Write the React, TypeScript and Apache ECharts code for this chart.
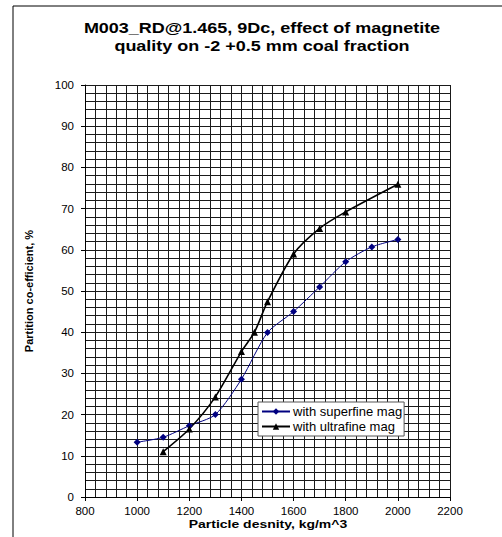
import React, { useEffect, useRef } from "react";
import * as echarts from "echarts";

const titleLines = ["M003_RD@1.465, 9Dc, effect of magnetite", "quality on -2 +0.5 mm coal fraction"];
const xName = "Particle desnity, kg/m^3";
const yName = "Partition co-efficient, %";

const superfineX = [1000, 1100, 1200, 1300, 1400, 1500, 1600, 1700, 1800, 1900, 2000];
const superfineY = [13.3, 14.5, 17.3, 20.0, 28.6, 39.9, 45.0, 51.0, 57.1, 60.7, 62.5];
const ultrafineX = [1100, 1200, 1300, 1400, 1450, 1500, 1600, 1700, 1800, 2000];
const ultrafineY = [11.0, 16.5, 24.3, 35.3, 40.0, 47.4, 59.0, 65.2, 69.2, 75.9];

const seriesNames = ["with superfine mag", "with ultrafine mag"];

export default function App() {
  const ref = useRef<HTMLDivElement>(null);
  useEffect(() => {
    if (!ref.current) return;
    const chart = echarts.init(ref.current, null, { renderer: "svg" });
    const font = "'Liberation Sans', Arial, sans-serif";
    const gridColor = "#1a1a1a";
    chart.setOption({
      animation: false,
      backgroundColor: "#fff",
      textStyle: { fontFamily: font },
      graphic: [
        { type: "line", shape: { x1: 13, y1: 6, x2: 502, y2: 6 }, style: { stroke: "#000", lineWidth: 1 } },
        { type: "line", shape: { x1: 13, y1: 6, x2: 13, y2: 537 }, style: { stroke: "#000", lineWidth: 1 } },
        {
          type: "text",
          x: 262,
          y: 28,
          scaleX: 1.2,
          style: { text: titleLines[0], font: `bold 15px ${font}`, fill: "#000", textAlign: "center", textVerticalAlign: "middle" },
        },
        {
          type: "text",
          x: 262,
          y: 46,
          scaleX: 1.2,
          style: { text: titleLines[1], font: `bold 15px ${font}`, fill: "#000", textAlign: "center", textVerticalAlign: "middle" },
        },
        {
          type: "text",
          x: 268,
          y: 525,
          scaleX: 1.27,
          style: { text: xName, font: `bold 11px ${font}`, fill: "#000", textAlign: "center", textVerticalAlign: "middle" },
        },
      ],
      grid: { left: 85, top: 85, width: 365, height: 412, containLabel: false },
      legend: {
        left: 258,
        top: 402,
        orient: "vertical",
        data: seriesNames,
        backgroundColor: "#fff",
        borderColor: "#555",
        borderWidth: 1,
        padding: [3, 2, 3, 3],
        itemGap: 2,
        itemWidth: 28,
        itemHeight: 8,
        textStyle: { fontSize: 13, color: "#000", fontFamily: font, padding: [0, 0, 0, -2] },
      },
      xAxis: {
        type: "value",
        min: 800,
        max: 2200,
        interval: 200,
        axisLine: { onZero: false, lineStyle: { color: "#000", width: 1 } },
        axisTick: { show: true, length: 4, lineStyle: { color: "#000" } },
        axisLabel: { fontSize: 11.5, color: "#000", margin: 8, formatter: (v: number) => String(v) },
        splitLine: { show: true, lineStyle: { color: gridColor, width: 1 } },
        minorTick: { show: false, splitNumber: 5 },
        minorSplitLine: { show: true, lineStyle: { color: gridColor, width: 1 } },
      },
      yAxis: {
        type: "value",
        min: 0,
        max: 100,
        interval: 10,
        name: yName,
        nameLocation: "middle",
        nameGap: 51,
        nameTextStyle: { fontWeight: "bold", fontSize: 11, color: "#000" },
        axisLine: { show: true, onZero: false, lineStyle: { color: "#000", width: 1 } },
        axisTick: { show: true, length: 4, lineStyle: { color: "#000" } },
        axisLabel: { fontSize: 11.5, color: "#000", margin: 11 },
        splitLine: { show: true, lineStyle: { color: gridColor, width: 1 } },
        minorTick: { show: false, splitNumber: 5 },
        minorSplitLine: { show: true, lineStyle: { color: gridColor, width: 1 } },
      },
      series: [
        {
          name: seriesNames[0],
          type: "line",
          data: superfineX.map((x, i) => [x, superfineY[i]]),
          smooth: 0.25,
          symbol: "diamond",
          symbolSize: 7,
          lineStyle: { color: "#000080", width: 1 },
          itemStyle: { color: "#000080" },
          z: 3,
        },
        {
          name: seriesNames[1],
          type: "line",
          data: ultrafineX.map((x, i) => [x, ultrafineY[i]]),
          smooth: 0.25,
          symbol: "triangle",
          symbolSize: 7,
          lineStyle: { color: "#000", width: 1.6 },
          itemStyle: { color: "#000" },
          z: 3,
        },
      ],
    });
    return () => chart.dispose();
  }, []);
  return <div ref={ref} style={{ width: 502, height: 537, position: "absolute", left: 0, top: 0 }} />;
}
